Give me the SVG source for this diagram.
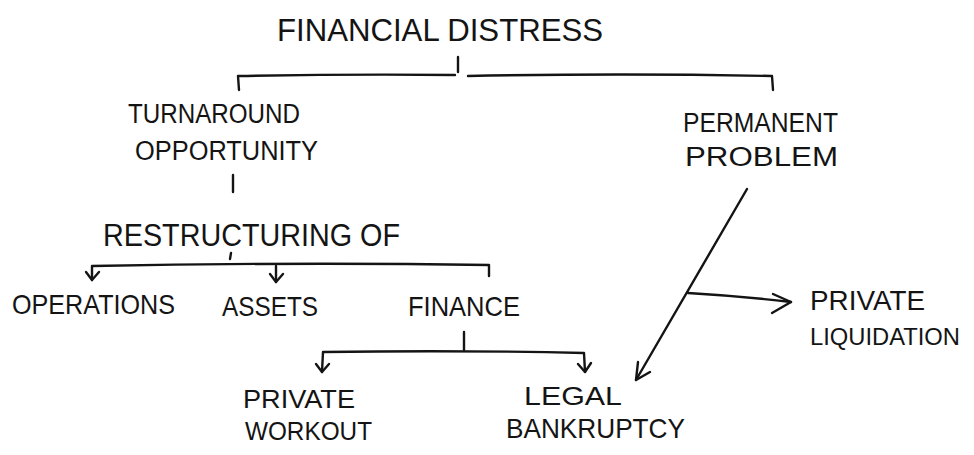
<svg xmlns="http://www.w3.org/2000/svg" width="974" height="455" viewBox="0 0 974 455">
  <style>
    .t { font-family: "Liberation Sans", Arial, sans-serif; fill: #141414; }
    .ln { stroke: #141414; stroke-width: 2.4; fill: none; stroke-linecap: round; stroke-linejoin: round; }
  </style>
  <rect width="974" height="455" fill="#ffffff"/>

  <!-- nodes -->
  <g id="financial-distress">
    <text class="t" x="277" y="41" font-size="32" textLength="326" lengthAdjust="spacingAndGlyphs">FINANCIAL DISTRESS</text>
  </g>
  <g id="turnaround-opportunity">
    <text class="t" x="128" y="123" font-size="27" textLength="172" lengthAdjust="spacingAndGlyphs">TURNAROUND</text>
    <text class="t" x="135" y="160" font-size="27" textLength="183" lengthAdjust="spacingAndGlyphs">OPPORTUNITY</text>
  </g>
  <g id="permanent-problem">
    <text class="t" x="683" y="132" font-size="27" textLength="155" lengthAdjust="spacingAndGlyphs">PERMANENT</text>
    <text class="t" x="685" y="166" font-size="27" textLength="153" lengthAdjust="spacingAndGlyphs">PROBLEM</text>
  </g>
  <g id="restructuring-of">
    <text class="t" x="103" y="246" font-size="32" textLength="297" lengthAdjust="spacingAndGlyphs">RESTRUCTURING OF</text>
  </g>
  <g id="operations">
    <text class="t" x="12" y="314" font-size="28" textLength="163" lengthAdjust="spacingAndGlyphs">OPERATIONS</text>
  </g>
  <g id="assets">
    <text class="t" x="222" y="316" font-size="28" textLength="96" lengthAdjust="spacingAndGlyphs">ASSETS</text>
  </g>
  <g id="finance">
    <text class="t" x="408" y="316" font-size="28" textLength="112" lengthAdjust="spacingAndGlyphs">FINANCE</text>
  </g>
  <g id="private-workout">
    <text class="t" x="243" y="408" font-size="26" textLength="112" lengthAdjust="spacingAndGlyphs">PRIVATE</text>
    <text class="t" x="245" y="440" font-size="26" textLength="127" lengthAdjust="spacingAndGlyphs">WORKOUT</text>
  </g>
  <g id="legal-bankruptcy">
    <text class="t" x="524" y="405" font-size="26" textLength="98" lengthAdjust="spacingAndGlyphs">LEGAL</text>
    <text class="t" x="506" y="438" font-size="28" textLength="179" lengthAdjust="spacingAndGlyphs">BANKRUPTCY</text>
  </g>
  <g id="private-liquidation">
    <text class="t" x="810" y="310" font-size="27" textLength="115" lengthAdjust="spacingAndGlyphs">PRIVATE</text>
    <text class="t" x="810" y="345" font-size="24" textLength="150" lengthAdjust="spacingAndGlyphs">LIQUIDATION</text>
  </g>

  <!-- connectors -->
  <g id="connectors" class="ln">
    <!-- top split -->
    <path d="M458 57 L458 72"/>
    <path d="M239 90 L238 76 Q350 74 455 75"/>
    <path d="M468 76 Q620 73 772 76 L773 90"/>
    <!-- turnaround to restructuring -->
    <path d="M233 175 L233 192"/>
    <!-- restructuring split -->
    <path d="M231 253 L230 259"/>
    <path d="M92 280 L92 266 Q300 262 489 265 L489 276"/>
    <path d="M86 272 L92 280 L99 272"/>
    <path d="M276 266 L276 282"/>
    <path d="M270 274 L276 282 L283 274"/>
    <!-- finance split -->
    <path d="M464 332 L464 350"/>
    <path d="M322 372 L323 352 Q460 350 584 353 L585 372"/>
    <path d="M316 364 L322 372 L329 364"/>
    <path d="M578 364 L585 372 L591 363"/>
    <!-- permanent problem to legal bankruptcy -->
    <path d="M747 189 L636 380"/>
    <path d="M638 362 L636 380 L650 372"/>
    <!-- branch to private liquidation -->
    <path d="M688 293 Q740 296 791 302"/>
    <path d="M773 294 L791 302 L772 313"/>
  </g>
</svg>
